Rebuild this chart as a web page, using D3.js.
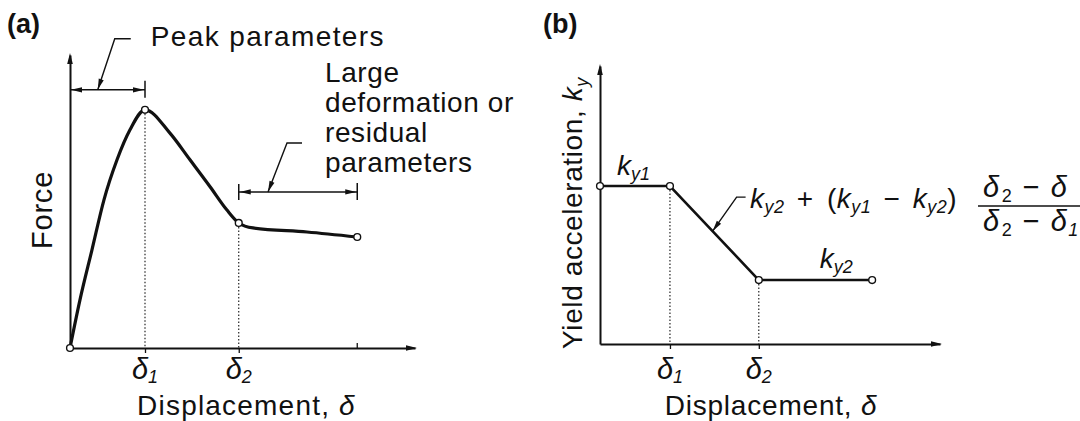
<!DOCTYPE html>
<html><head><meta charset="utf-8">
<script src="https://cdn.jsdelivr.net/npm/d3@7"></script>
<style>
html,body{margin:0;padding:0;background:#fff;}
svg{display:block;}
text{font-family:"Liberation Sans",Arial,Helvetica,sans-serif;fill:#111;}
</style></head><body>
<svg id="fig" width="1080" height="421"></svg>
<script>
// (a) force–displacement curve, displacement in units of δ1, force in units of the peak
const forceDisp = [0, 0.133, 0.293, 0.453, 0.627, 0.8, 1.0, 1.33, 1.6, 1.87, 2.09, 2.25, 2.44, 3.16, 3.83];
const forceVal  = [0, 0.202, 0.412, 0.622, 0.79, 0.916, 1.0, 0.903, 0.79, 0.676, 0.58, 0.525, 0.504, 0.487, 0.466];
const forceKeyDisp = [0, 1.0, 2.25, 3.83];
const forceKeyVal  = [0, 1.0, 0.525, 0.466];
const forceTicks = [1.0, 2.25];

// (b) yield acceleration vs displacement, ky in units of ky1
const kyDisp = [0, 1.0, 2.27, 3.89];
const kyVal  = [1.0, 1.0, 0.405, 0.405];
const kyTicks = [1.0, 2.27];

const tickSubs = ["1", "2"];
const annotLines = ["Large", "deformation or", "residual", "parameters"];

const FONT = 28, SUB = 18;
const svg = d3.select("#fig");
const ink = "#111";

// scales
const xA = d3.scaleLinear().domain([0, 4.6]).range([70, 415]);
const yA = d3.scaleLinear().domain([0, 1.23]).range([348, 55]);
const xB = d3.scaleLinear().domain([0, 4.86]).range([600, 940]);
const yB = d3.scaleLinear().domain([0, 1.76]).range([344, 66]);

function arrowHead(g, tx, ty, ang, len, hw) {
  const c = Math.cos(ang), s = Math.sin(ang);
  const bx = tx - c * len, by = ty - s * len;
  const p = [[tx, ty], [bx - s * hw, by + c * hw], [bx + s * hw, by - c * hw]];
  g.append("path").attr("d", "M" + p.map(q => q.join(",")).join("L") + "Z")
    .attr("fill", ink).attr("stroke", "none");
}

// text with italic math pieces and subscripts
function richText(g, x, y, parts, opts = {}) {
  const t = g.append("text").attr("x", x).attr("y", y)
    .attr("font-size", opts.size || FONT)
    .attr("text-anchor", opts.anchor || "start")
    .attr("xml:space", "preserve");
  const drop = opts.drop || 5;
  let shift = 0;
  parts.forEach(p => {
    const sp = t.append("tspan").text(p.t);
    if (p.i) sp.attr("font-style", "italic");
    if (p.dx) sp.attr("dx", p.dx);
    const want = p.sub ? drop : 0;
    if (want !== shift) { sp.attr("dy", want - shift); shift = want; }
    if (p.sub) sp.attr("font-size", opts.sub || SUB);
  });
  return t;
}

function drawAxes(g, x, y, ticks) {
  const x0 = x(0), y0 = y(0);
  const xr = x.range()[1], yt = y.range()[1];
  g.append("g").attr("transform", `translate(0,${y0})`)
    .call(d3.axisBottom(x).tickValues(ticks).tickSize(5).tickSizeOuter(0).tickFormat(""))
    .call(a => a.select(".domain").attr("stroke", ink).attr("stroke-width", 2))
    .call(a => a.selectAll(".tick line").attr("stroke", ink).attr("stroke-width", 1.3));
  g.append("g").attr("transform", `translate(${x0},0)`)
    .call(d3.axisLeft(y).tickValues([]).tickSizeOuter(0))
    .call(a => a.select(".domain").attr("stroke", ink).attr("stroke-width", 2));
  arrowHead(g, xr + 2, y0, 0, 11, 2.8);
  arrowHead(g, x0, yt - 2, -Math.PI / 2, 11, 2.8);
  // δ tick labels
  ticks.forEach((v, i) => {
    richText(g, x(v), 379, [{t: "δ", i: true}, {t: tickSubs[i], i: true, sub: true}],
      {anchor: "middle", drop: 4, size: 29});
  });
}

function dotted(g, x1, y1, x2, y2) {
  g.append("line").attr("x1", x1).attr("y1", y1).attr("x2", x2).attr("y2", y2)
    .attr("stroke", ink).attr("stroke-width", 1.1).attr("stroke-dasharray", "1.5,2");
}

function nodes(g, xs, ys, x, y) {
  g.selectAll(null).data(xs.map((d, i) => [d, ys[i]])).join("circle")
    .attr("cx", d => x(d[0])).attr("cy", d => y(d[1])).attr("r", 3.4)
    .attr("fill", "#fff").attr("stroke", ink).attr("stroke-width", 1.4);
}

// dimension line with outward arrows and end ticks
function dimension(g, x1, x2, yy, tickLeft) {
  g.append("line").attr("x1", x1).attr("x2", x2).attr("y1", yy).attr("y2", yy)
    .attr("stroke", ink).attr("stroke-width", 1.5);
  arrowHead(g, x1 + 1, yy, Math.PI, 11, 2.6);
  arrowHead(g, x2 - 1, yy, 0, 11, 2.6);
  if (tickLeft) g.append("line").attr("x1", x1).attr("x2", x1).attr("y1", yy - 8).attr("y2", yy + 8)
    .attr("stroke", ink).attr("stroke-width", 1.5);
  g.append("line").attr("x1", x2).attr("x2", x2).attr("y1", yy - 9).attr("y2", yy + 8)
    .attr("stroke", ink).attr("stroke-width", 1.5);
}

// leader: arrow tip at (ax,ay), kinked line up to elbow then a short horizontal run
function leader(g, ax, ay, ex, ey, run) {
  g.append("path").attr("d", `M${ax},${ay}L${ex},${ey}h${run}`)
    .attr("fill", "none").attr("stroke", ink).attr("stroke-width", 1.4);
  arrowHead(g, ax, ay, Math.atan2(ay - ey, ax - ex), 11, 2.6);
}

// ---------- panel (a) ----------
const gA = svg.append("g");
gA.append("text").attr("x", 7).attr("y", 33).attr("font-size", 27).attr("font-weight", "bold").text("(a)");
drawAxes(gA, xA, yA, forceTicks);
// small tick marking the end of the record
const endX = xA(forceKeyDisp[3]);
gA.append("line").attr("x1", endX).attr("x2", endX).attr("y1", yA(0)).attr("y2", yA(0) - 5)
  .attr("stroke", ink).attr("stroke-width", 1.3);

dotted(gA, xA(forceKeyDisp[1]), yA(forceKeyVal[1]) + 4, xA(forceKeyDisp[1]), yA(0));
dotted(gA, xA(forceKeyDisp[2]), yA(forceKeyVal[2]) + 4, xA(forceKeyDisp[2]), yA(0));

gA.append("path")
  .datum(forceDisp.map((d, i) => [d, forceVal[i]]))
  .attr("d", d3.line().x(d => xA(d[0])).y(d => yA(d[1])).curve(d3.curveMonotoneX))
  .attr("fill", "none").attr("stroke", ink).attr("stroke-width", 3.2).attr("stroke-linejoin", "round");
nodes(gA, forceKeyDisp, forceKeyVal, xA, yA);

// peak parameter range: origin to δ1
const peakY = yA(1.084);
dimension(gA, xA(0), xA(forceKeyDisp[1]), peakY, false);
const lp = [xA(0.37), peakY];
leader(gA, lp[0], lp[1], lp[0] + 17, lp[1] - 51, 16);
gA.append("text").attr("x", lp[0] + 53).attr("y", 46).attr("font-size", FONT).attr("letter-spacing", 1.4)
  .text("Peak parameters");

// residual parameter range: δ2 to end
const resY = yA(0.655);
dimension(gA, xA(forceKeyDisp[2]), xA(forceKeyDisp[3]), resY, true);
const lr = [xA(2.64), resY];
leader(gA, lr[0], lr[1], lr[0] + 19, lr[1] - 49, 15);
annotLines.forEach((s, i) => {
  gA.append("text").attr("x", 325).attr("y", 82 + i * 30).attr("font-size", FONT).attr("letter-spacing", 0.6).text(s);
});

gA.append("text").attr("transform", "translate(52,210) rotate(-90)").attr("text-anchor", "middle")
  .attr("font-size", 29).attr("letter-spacing", 0.8).text("Force");
richText(gA, (xA(0) + xA(4.6)) / 2 + 4, 415, [{t: "Displacement, "}, {t: "δ", i: true}], {anchor: "middle"})
  .attr("letter-spacing", 1.2);

// ---------- panel (b) ----------
const gB = svg.append("g");
gB.append("text").attr("x", 543).attr("y", 33).attr("font-size", 27).attr("font-weight", "bold").text("(b)");
drawAxes(gB, xB, yB, kyTicks);
dotted(gB, xB(kyDisp[1]), yB(kyVal[1]) + 4, xB(kyDisp[1]), yB(0));
dotted(gB, xB(kyDisp[2]), yB(kyVal[2]) + 4, xB(kyDisp[2]), yB(0));

gB.append("path")
  .datum(kyDisp.map((d, i) => [d, kyVal[i]]))
  .attr("d", d3.line().x(d => xB(d[0])).y(d => yB(d[1])))
  .attr("fill", "none").attr("stroke", ink).attr("stroke-width", 2.6).attr("stroke-linejoin", "round");
nodes(gB, kyDisp, kyVal, xB, yB);

richText(gB, xB(0) + 17, 175, [{t: "k", i: true}, {t: "y1", i: true, sub: true}]);
richText(gB, xB(kyDisp[2]) + 61, 268, [{t: "k", i: true}, {t: "y2", i: true, sub: true}]);

// transition law along the sloping segment
const tq = 0.48;
const qx = xB(kyDisp[1] + tq * (kyDisp[2] - kyDisp[1]));
const qy = yB(kyVal[1] + tq * (kyVal[2] - kyVal[1]));
leader(gB, qx, qy, qx + 24, qy - 34, 9);
const fy = 208;
richText(gB, 750, fy, [
  {t: "k", i: true}, {t: "y2", i: true, sub: true},
  {t: " + ", dx: 4}, {t: "(", dx: 5}, {t: "k", i: true}, {t: "y1", i: true, sub: true},
  {t: " − ", dx: 4}, {t: "k", i: true, dx: 4}, {t: "y2", i: true, sub: true}, {t: ")"}
], {size: 28}).attr("letter-spacing", 0.5);
const fx0 = 978, fx1 = 1080;
gB.append("line").attr("x1", fx0).attr("x2", fx1).attr("y1", fy - 2).attr("y2", fy - 2)
  .attr("stroke", ink).attr("stroke-width", 1.4);
richText(gB, 983, fy - 11, [{t: "δ", i: true}, {t: "2", sub: true, dx: 2}, {t: " − ", dx: 2}, {t: "δ", i: true, dx: 2}], {size: 29})
  .attr("letter-spacing", 0.5);
richText(gB, 983, fy + 23, [{t: "δ", i: true}, {t: "2", sub: true, dx: 2}, {t: " − ", dx: 2}, {t: "δ", i: true, dx: 2}, {t: "1", i: true, sub: true, dx: 1}], {size: 29})
  .attr("letter-spacing", 0.5);

gB.append("text").attr("transform", "translate(582,213) rotate(-90)").attr("text-anchor", "middle")
  .attr("font-size", FONT).attr("letter-spacing", 0.6)
  .call(t => {
    t.append("tspan").text("Yield acceleration, ");
    t.append("tspan").attr("font-style", "italic").text("k");
    t.append("tspan").attr("font-style", "italic").attr("font-size", SUB).attr("dy", 6).text("y");
  });
richText(gB, (xB(0) + xB(4.86)) / 2 + 1, 415, [{t: "Displacement, "}, {t: "δ", i: true}], {anchor: "middle"})
  .attr("letter-spacing", 0.8);
</script>
</body></html>
